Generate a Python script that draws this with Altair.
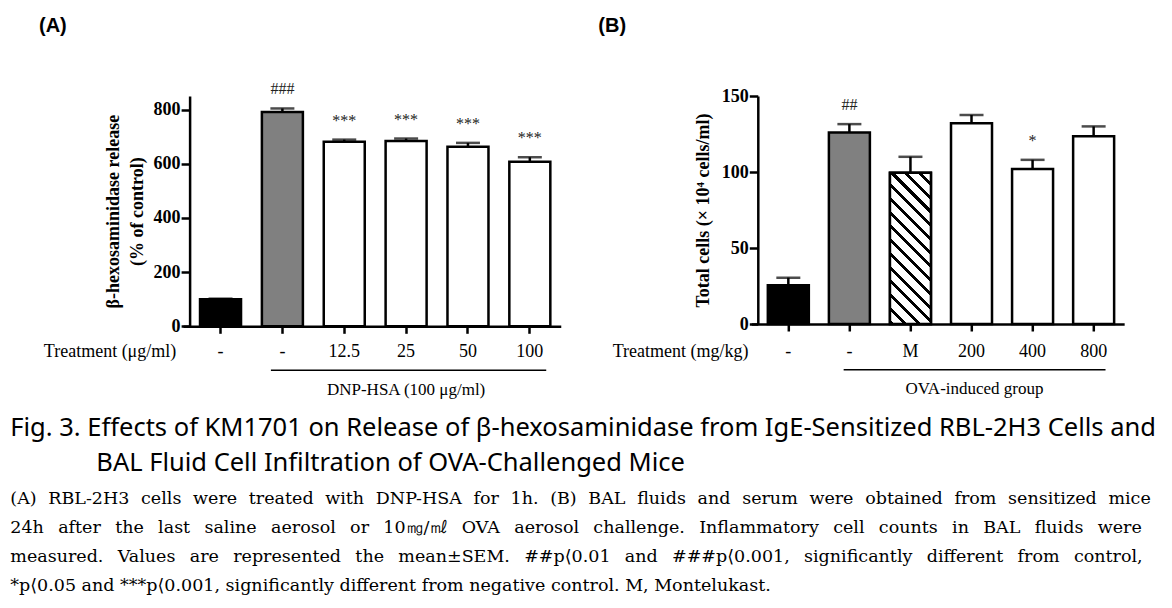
import json
import altair as alt
import pandas as pd

# ---------------- data ----------------
a_ticks = ["-", "-", "12.5", "25", "50", "100"]
a_mean = [100, 791, 681, 684, 663, 607]
a_sem = [2, 13, 8, 9, 14, 17]
a_sig = ["", "###", "***", "***", "***", "***"]
a_style = ["black", "gray", "white", "white", "white", "white"]
a_group = "DNP-HSA (100 μg/ml)"
a_yticks = [0, 200, 400, 600, 800]
a_ytitle = ["β-hexosaminidase release", "(% of control)"]
a_xtitle = "Treatment (μg/ml)"

b_ticks = ["-", "-", "M", "200", "400", "800"]
b_mean = [25.5, 126, 99.5, 132, 102, 123.5]
b_sem = [5, 5.5, 10.5, 5.5, 6, 6.5]
b_sig = ["", "##", "", "", "*", ""]
b_style = ["black", "gray", "hatch", "white", "white", "white"]
b_group = "OVA-induced group"
b_yticks = [0, 50, 100, 150]
b_ytitle = "Total cells (× 10⁴ cells/ml)"
b_xtitle = "Treatment (mg/kg)"

caption_title = [
    "Fig. 3. Effects of KM1701 on Release of β-hexosaminidase from IgE-Sensitized RBL-2H3 Cells and",
    "BAL Fluid Cell Infiltration of OVA-Challenged Mice",
]
caption_body = [
    "(A) RBL-2H3 cells were treated with DNP-HSA for 1h. (B) BAL fluids and serum were obtained from sensitized mice",
    "24h after the last saline aerosol or 10㎎/㎖ OVA aerosol challenge. Inflammatory cell counts in BAL fluids were",
    "measured. Values are represented the mean±SEM. ##p⟨0.01 and ###p⟨0.001, significantly different from control,",
    "*p⟨0.05 and ***p⟨0.001, significantly different from negative control. M, Montelukast.",
]

SERIF = "Liberation Serif"
SANS = "Liberation Sans"
CAPF = "Noto Sans"
BODYF = "DejaVu Serif"
BAND = 41.0

# extra word-gap per caption body line (justified paragraph look)
GAPS = [" \u2005\u200a", " \u2002", " \u2002", " "]


def justify(lines):
    return [ln.replace(" ", g) for ln, g in zip(lines, GAPS)]


def hatch_gradient(W, H, n=14, frac=0.3):
    a = W / (W + H)
    b = -H / (W + H)
    d = a * a + b * b
    stops = []
    for k in range(n):
        o0, o1, o2 = k / n, (k + frac) / n, (k + 1) / n
        stops += [
            {"offset": o0, "color": "#000000"},
            {"offset": o1, "color": "#000000"},
            {"offset": o1, "color": "#ffffff"},
            {"offset": o2, "color": "#ffffff"},
        ]
    return {"gradient": "linear", "x1": 0, "y1": 1, "x2": a / d, "y2": 1 + b / d,
            "stops": stops}


def panel(name, ticks, mean, sem, sig, style, group, yticks, ytitle, xtitle, *,
          ymax, step, off, h, ytitle_pad, xtitle_x, xtitle_y, label_pad,
          br_y, br_text_y, br_from, br_to, br_dx, name_x, name_y, captions=False):
    df = pd.DataFrame({"i": list(range(len(ticks))), "mean": mean, "sem": sem,
                       "sig": sig, "style": style})
    n = len(ticks)
    pi = 1 - BAND / step
    po = (off + step * pi) / (2 * step)
    al = (off + step * pi / 2) / (off + step * pi)
    w = off + n * step
    xs = alt.Scale(domain=list(range(n)), paddingInner=pi, paddingOuter=po, align=al)
    ys = alt.Scale(domain=[0, ymax], nice=False, zero=True)
    xaxis = alt.Axis(
        labelExpr=json.dumps(ticks) + "[datum.value]", labelAngle=0,
        labelFont=SERIF, labelFontSize=18, labelColor="black", labelBaseline="middle",
        labelPadding=label_pad, tickSize=7, tickWidth=2.5, tickColor="black",
        domainWidth=2.5, domainColor="black", grid=False,
        title=xtitle, titleFont=SERIF, titleFontSize=18, titleFontWeight="normal",
        titleColor="black", titleAngle=0, titleAlign="left", titleBaseline="middle",
        titleX=xtitle_x, titleY=xtitle_y,
    )
    yaxis = alt.Axis(
        values=yticks, labelFont=SERIF, labelFontWeight="bold", labelFontSize=18,
        labelColor="black", labelPadding=1, labelFlush=False, labelOverlap=False,
        tickSize=8.5, tickWidth=2.5, tickColor="black", domainWidth=2.5,
        domainColor="black", grid=False, offset=-off,
        title=ytitle, titleFont=SERIF, titleFontWeight="bold", titleFontSize=18,
        titleColor="black", titlePadding=ytitle_pad, titleLineHeight=24,
    )
    base = alt.Chart(df).encode(x=alt.X("i:O", scale=xs, axis=xaxis))
    fill_scale = alt.Scale(domain=["black", "gray", "hatch", "white"],
                           range=["#000000", "#808080", "#ffffff", "#ffffff"])
    layers = []
    layers.append(base.mark_bar(stroke="black", strokeWidth=2.5).encode(
        y=alt.Y("mean:Q", scale=ys, axis=yaxis),
        fill=alt.Fill("style:N", scale=fill_scale, legend=None)))
    if "hatch" in style:
        k = style.index("hatch")
        H = mean[k] / ymax * h
        layers.append(base.transform_filter("datum.style == 'hatch'").mark_bar(
            fill=hatch_gradient(BAND, H), stroke="black", strokeWidth=2.5).encode(
            y=alt.Y("mean:Q", scale=ys, axis=yaxis)))
    err = base.transform_calculate(hi="datum.mean + datum.sem")
    layers.append(err.mark_rule(color="black", strokeWidth=2.5).encode(
        y=alt.Y("mean:Q", scale=ys, axis=yaxis), y2="hi:Q"))
    layers.append(err.mark_tick(color="black", thickness=2.5, size=24).encode(
        y=alt.Y("hi:Q", scale=ys, axis=yaxis)))
    layers.append(err.mark_text(font=SERIF, fontSize=16, dy=-14, baseline="alphabetic",
                                color="#222222").encode(
        y=alt.Y("hi:Q", scale=ys, axis=yaxis), text="sig:N"))
    brdf = pd.DataFrame({"s": [1], "e": [n - 1], "m": [3], "t": [group]})
    layers.append(alt.Chart(brdf).mark_rule(color="black", strokeWidth=1.5).encode(
        x=alt.X("s:O", scale=xs, axis=xaxis, bandPosition=br_from),
        x2=alt.X2("e:O", bandPosition=br_to),
        y=alt.value(h + br_y)))
    layers.append(alt.Chart(brdf).mark_text(font=SERIF, fontSize=17, dx=br_dx,
                                            baseline="middle", color="black").encode(
        x=alt.X("m:O", scale=xs, axis=xaxis), y=alt.value(h + br_text_y), text="t:N"))
    ndf = pd.DataFrame({"t": [name]})
    layers.append(alt.Chart(ndf).mark_text(font=SANS, fontSize=20, fontWeight="bold",
                                           align="left", baseline="middle",
                                           color="black").encode(
        x=alt.value(name_x), y=alt.value(name_y), text="t:N"))
    if captions:
        cdf = pd.DataFrame({"t": [0]})
        layers.append(alt.Chart(cdf).mark_text(font=CAPF, fontSize=25.5, align="left",
                                               baseline="middle", color="black").encode(
            x=alt.value(-172.7), y=alt.value(331.8), text=alt.value(caption_title[0])))
        layers.append(alt.Chart(cdf).mark_text(font=CAPF, fontSize=25.5, align="left",
                                               baseline="middle", color="black").encode(
            x=alt.value(-86.7), y=alt.value(366.8), text=alt.value(caption_title[1])))
        layers.append(alt.Chart(cdf).mark_text(font=BODYF, fontSize=17.5, align="left",
                                               baseline="middle", lineHeight=29,
                                               color="black").encode(
            x=alt.value(-172.7), y=alt.value(402.8),
            text=alt.value(justify(caption_body))))
    return alt.layer(*layers).properties(width=w, height=h)


pA = panel("(A)", a_ticks, a_mean, a_sem, a_sig, a_style, a_group, a_yticks, a_ytitle,
           a_xtitle, ymax=850, step=61.86, off=6.6, h=230.3, ytitle_pad=7,
           xtitle_x=-139.7, xtitle_y=25.5, label_pad=18.5, br_y=44, br_text_y=63.5,
           br_from=0.22, br_to=0.90, br_dx=0, name_x=-144, name_y=-70.2, captions=True)
pB = panel("(B)", b_ticks, b_mean, b_sem, b_sig, b_style, b_group, b_yticks, b_ytitle,
           b_xtitle, ymax=150, step=61.06, off=6.5, h=228, ytitle_pad=9,
           xtitle_x=-139.1, xtitle_y=27.8, label_pad=20.8, br_y=45.8, br_text_y=64.8,
           br_from=0.36, br_to=0.79, br_dx=3, name_x=-153, name_y=-70.2)

chart = alt.hconcat(pA, pB, spacing=190.3, bounds="flush").properties(
    padding={"left": 2, "top": 7, "right": 0, "bottom": 0},
    background="white",
).configure_view(stroke=None)

chart.save("out.html", embed_options={"renderer": "svg", "actions": False})
